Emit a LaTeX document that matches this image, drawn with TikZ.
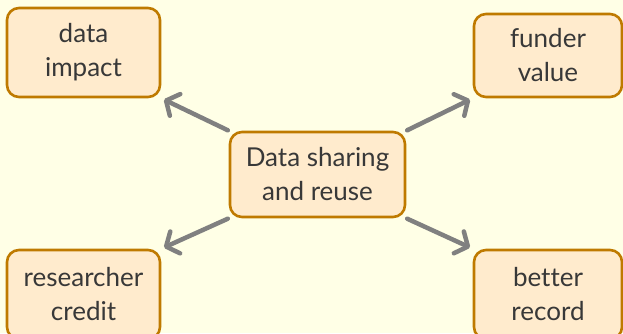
\documentclass[tikz,border=0pt]{standalone}
\usepackage{fontspec}
\setmainfont{Lato}[RawFeature=-liga]
\usetikzlibrary{arrows.meta}
\definecolor{bgc}{HTML}{FFFFE6}
\definecolor{boxfill}{HTML}{FFEBCD}
\definecolor{boxdraw}{HTML}{BF7A00}
\definecolor{txt}{HTML}{383838}
\definecolor{arrc}{HTML}{808080}
\pgfdeclarelayer{bg}
\pgfdeclarelayer{arrows}
\pgfsetlayers{bg,arrows,main}
\tikzset{
  box/.style={draw=boxdraw, fill=boxfill, line width=2.6pt, rounded corners=12pt,
    text=txt, align=center, inner sep=0pt,
    font=\fontsize{26}{34}\selectfont},
  arr/.style={draw=arrc, line width=4.5pt, line cap=round,
    -{Straight Barb[length=10pt,width=24pt,round]}}
}
\begin{document}
\begin{tikzpicture}[x=1pt,y=-1pt]
\useasboundingbox (0,0) rectangle (623,333);
\begin{pgfonlayer}{bg}
\fill[bgc] (0,0) rectangle (623,333);
\end{pgfonlayer}
\node[box, minimum width=153pt, minimum height=89pt] (di) at (83.5,52.5) {data\\impact};
\node[box, minimum width=148pt, minimum height=83pt] (fv) at (548,55.5) {funder\\value};
\node[box, minimum width=175pt, minimum height=85pt] (c) at (317.5,174.5) {Data sharing\\and reuse};
\node[box, minimum width=153pt, minimum height=89pt] (rc) at (83.5,294.5) {researcher\\credit};
\node[box, minimum width=148pt, minimum height=89pt] (br) at (548,294.5) {better\\record};
\begin{pgfonlayer}{arrows}
\draw[arr, shorten <=1pt, shorten >=3pt] (c.north west) -- (di.south east);
\draw[arr, shorten <=1pt, shorten >=3pt] (c.north east) -- (fv.south west);
\draw[arr, shorten <=1pt, shorten >=3pt] (c.south west) -- (rc.north east);
\draw[arr, shorten <=1pt, shorten >=3pt] (c.south east) -- (br.north west);
\end{pgfonlayer}
\end{tikzpicture}
\end{document}
